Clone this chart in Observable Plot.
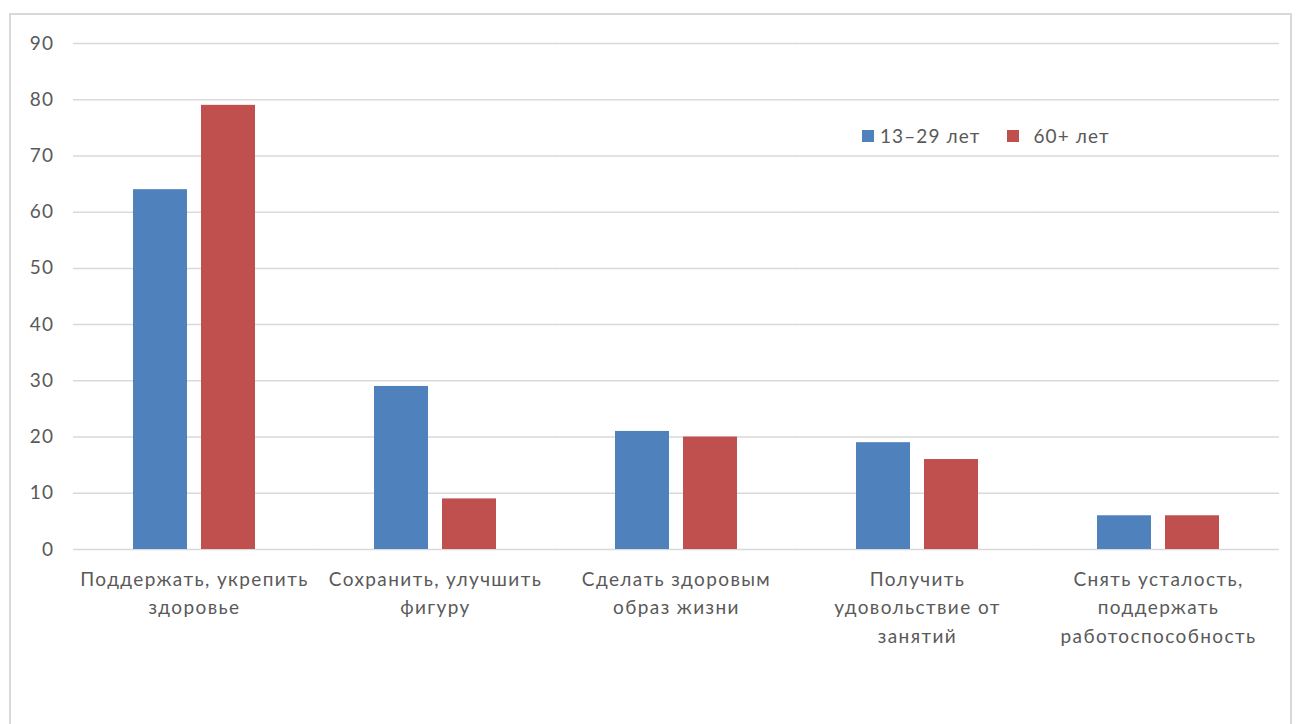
<!DOCTYPE html>
<html>
<head>
<meta charset="utf-8">
<script src="https://cdn.jsdelivr.net/npm/d3@7"></script>
<script src="https://cdn.jsdelivr.net/npm/@observablehq/plot@0.6"></script>
<style>
  html, body { margin: 0; padding: 0; background: #fff; }
  #frame { position: absolute; left: 9px; top: 13px; width: 1283px; height: 740px; border: 2px solid #d9d9d9; box-sizing: border-box; }
  #chart { position: absolute; left: 0; top: 0; }
  #legend { position: absolute; left: 862px; top: 124px; font-family: Lato, sans-serif; font-size: 19px; letter-spacing: 1.1px; color: #595959; display: flex; align-items: center; }
  #legend .item { display: flex; align-items: center; }
  #legend .sw { width: 12px; height: 12px; display: inline-block; margin-right: 6px; }
  #chart svg text { letter-spacing: 1.4px; }
</style>
</head>
<body>
<div id="frame"></div>
<div id="chart"></div>
<div id="legend"></div>
<script>
const categories = [
  "Поддержать, укрепить\nздоровье",
  "Сохранить, улучшить\nфигуру",
  "Сделать здоровым\nобраз жизни",
  "Получить\nудовольствие от\nзанятий",
  "Снять усталость,\nподдержать\nработоспособность"
];
const seriesNames = ["13–29 лет", "60+ лет"];
const youngValues = [64, 29, 21, 19, 6];
const oldValues = [79, 9, 20, 16, 6];
const seriesColors = ["#4F81BD", "#C0504D"];
const yTicks = [0, 10, 20, 30, 40, 50, 60, 70, 80, 90];

const data = [];
categories.forEach((c, i) => {
  data.push({cat: c, series: seriesNames[0], value: youngValues[i]});
  data.push({cat: c, series: seriesNames[1], value: oldValues[i]});
});

const chart = Plot.plot({
  width: 1297,
  height: 690,
  marginLeft: 73,
  marginRight: 19,
  marginTop: 43,
  marginBottom: 141,
  style: {fontFamily: "Lato, sans-serif", fontSize: "19px", color: "#595959", background: "transparent"},
  fx: {domain: categories, paddingInner: 0.494, paddingOuter: 0.247, label: null},
  x: {domain: seriesNames, paddingInner: 0.21, paddingOuter: 0, axis: null},
  y: {domain: [0, 90], label: null},
  color: {domain: seriesNames, range: seriesColors},
  marks: [
    Plot.ruleY(yTicks, {stroke: "#d9d9d9", strokeWidth: 1.5, insetLeft: -60, insetRight: -60}),
    Plot.barY(data, {fx: "cat", x: "series", y: "value", fill: "series"}),
    Plot.axisY({ticks: yTicks, tickSize: 0, tickPadding: 79, fill: "#595959", fontSize: 19, label: null}),
    Plot.axisFx({anchor: "bottom", tickSize: 0, tickPadding: 16, fill: "#595959", fontSize: 19, lineHeight: 1.5, label: null})
  ]
});
document.getElementById("chart").appendChild(chart);

const legend = document.getElementById("legend");
seriesNames.forEach((s, i) => {
  const item = document.createElement("span");
  item.className = "item";
  item.style.marginRight = i === 0 ? "27px" : "0";
  const sw = document.createElement("span");
  sw.className = "sw";
  sw.style.background = seriesColors[i];
  if (i === 1) sw.style.marginRight = "14px";
  item.appendChild(sw);
  item.appendChild(document.createTextNode(s));
  legend.appendChild(item);
});
</script>
</body>
</html>
